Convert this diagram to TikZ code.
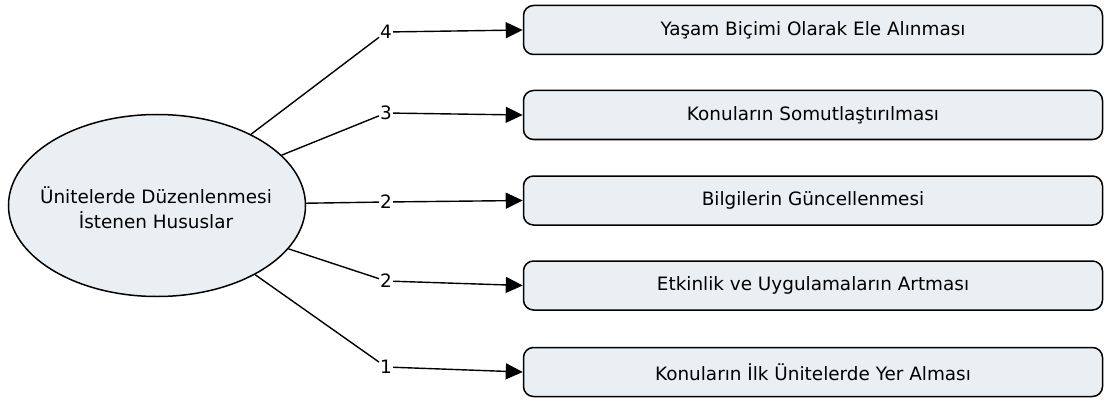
\documentclass[tikz,border=0pt]{standalone}
\usepackage{fontspec}
\setmainfont{DejaVu Sans}
\usetikzlibrary{arrows.meta,shapes.geometric}
\definecolor{boxfill}{HTML}{E9EFF3}
\begin{document}
\begin{tikzpicture}[x=1pt,y=-1pt,
  every node/.style={font=\fontsize{18.4}{25}\selectfont},
  itembox/.style={draw, line width=1.5pt, fill=boxfill, rounded corners=10pt, minimum width=579pt, minimum height=49pt, inner sep=0pt},
  cnt/.style={inner sep=1pt},
  link/.style={line width=1.4pt},
  arr/.style={line width=1.4pt, -{Triangle[length=17pt,width=16pt]}}]
\useasboundingbox (0,0) rectangle (1105,401);
\node[draw, line width=1.5pt, fill=boxfill, ellipse, minimum width=297pt, minimum height=182pt, inner sep=0pt] (e) at (157,205.5) {};
\node[align=center, inner sep=0pt] (et) at (156,208) {Ünitelerde Düzenlenmesi\\İstenen Hususlar};
\node[itembox] (b1) at (813,30) {Yaşam Biçimi Olarak Ele Alınması};
\node[itembox] (b2) at (813,115) {Konuların Somutlaştırılması};
\node[itembox] (b3) at (813,200.5) {Bilgilerin Güncellenmesi};
\node[itembox] (b4) at (813,285.5) {Etkinlik ve Uygulamaların Artması};
\node[itembox] (b5) at (813,372) {Konuların İlk Ünitelerde Yer Alması};
\node[cnt] (l1) at (386,32) {4};
\node[cnt] (l2) at (386,113) {3};
\node[cnt] (l3) at (386,202) {2};
\node[cnt] (l4) at (386,281) {2};
\node[cnt] (l5) at (386,367) {1};
\draw[link] (e) -- (l1);
\draw[link] (e) -- (l2);
\draw[link] (e) -- (l3);
\draw[link] (e) -- (l4);
\draw[link] (e) -- (l5);
\draw[arr] (l1) -- (b1.west);
\draw[arr] (l2) -- (b2.west);
\draw[arr] (l3) -- (b3.west);
\draw[arr] (l4) -- (b4.west);
\draw[arr] (l5) -- (b5.west);
\end{tikzpicture}
\end{document}
